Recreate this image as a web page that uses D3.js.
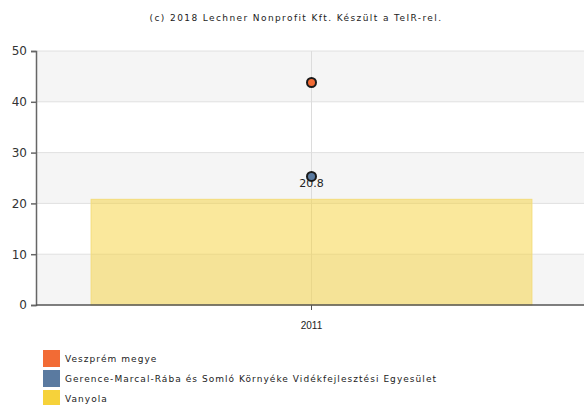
<!DOCTYPE html>
<html>
<head>
<meta charset="utf-8">
<script src="https://cdn.jsdelivr.net/npm/d3@7/dist/d3.min.js"></script>
<style>
  body { margin: 0; background: #fff; }
  svg { display: block; font-family: "DejaVu Sans", Verdana, sans-serif; }
</style>
</head>
<body>
<svg id="chart" width="584" height="405"></svg>
<script>
// Years on the x axis
const categories = ["2011"];
// Bar series (Vanyola) and point series
const barValues = [20.8];
const pointSeriesNames = ["Veszprém megye", "Gerence-Marcal-Rába és Somló Környéke Vidékfejlesztési Egyesület"];
const pointValues = [[43.8], [25.3]];
const legendNames = ["Veszprém megye", "Gerence-Marcal-Rába és Somló Környéke Vidékfejlesztési Egyesület", "Vanyola"];
const legendColors = ["#f26b35", "#5a7aa0", "#f6d23a"];
const yTicks = [0, 10, 20, 30, 40, 50];
const title = "(c) 2018 Lechner Nonprofit Kft. Készült a TeIR-rel.";

const svg = d3.select("#chart");
const margin = { left: 36, top: 51 };
const W = 584;
const plotRight = 587;
const plotBottom = 305;

const x = d3.scaleBand().domain(categories).range([margin.left, plotRight]).paddingInner(0.2).paddingOuter(0.1);
const y = d3.scaleLinear().domain([0, 50]).range([plotBottom, margin.top]);

// Title
svg.append("text").attr("x", 296).attr("y", 21).attr("text-anchor", "middle")
  .attr("font-size", 9).attr("letter-spacing", 1.4).attr("fill", "#222").text(title);

// Alternating horizontal bands
const bands = d3.pairs(yTicks);
svg.append("g").selectAll("rect").data(bands).join("rect")
  .attr("x", margin.left).attr("width", W - margin.left)
  .attr("y", d => y(d[1])).attr("height", d => y(d[0]) - y(d[1]))
  .attr("fill", (d, i) => i % 2 === 0 ? "#f5f5f5" : "#ffffff");

// Grid lines
svg.append("g").selectAll("line").data(yTicks.slice(1)).join("line")
  .attr("x1", margin.left).attr("x2", W)
  .attr("y1", d => y(d)).attr("y2", d => y(d))
  .attr("stroke", "#e0e0e0").attr("stroke-width", 1);

// Vertical category line
svg.append("g").selectAll("line").data(categories).join("line")
  .attr("x1", d => x(d) + x.bandwidth() / 2).attr("x2", d => x(d) + x.bandwidth() / 2)
  .attr("y1", margin.top).attr("y2", plotBottom)
  .attr("stroke", "#dcdcdc").attr("stroke-width", 1);

// Bars
svg.append("g").selectAll("rect").data(barValues).join("rect")
  .attr("x", (d, i) => x(categories[i]))
  .attr("width", x.bandwidth())
  .attr("y", d => y(d)).attr("height", d => y(0) - y(d))
  .attr("fill", "#f6d23a").attr("fill-opacity", 0.5)
  .attr("stroke", "#f3dc7a").attr("stroke-width", 1);

// Bar value labels
svg.append("g").selectAll("text").data(barValues).join("text")
  .attr("x", (d, i) => x(categories[i]) + x.bandwidth() / 2)
  .attr("y", d => y(d) - 12)
  .attr("text-anchor", "middle").attr("font-size", 11).attr("fill", "#222")
  .text(d => d.toFixed(1));

// Points
pointValues.forEach((vals, s) => {
  svg.append("g").selectAll("circle").data(vals).join("circle")
    .attr("cx", (d, i) => x(categories[i]) + x.bandwidth() / 2)
    .attr("cy", d => y(d))
    .attr("r", 4.5)
    .attr("fill", legendColors[s])
    .attr("stroke", "#1a1a1a").attr("stroke-width", 2);
});

// Y axis
const yAxis = svg.append("g").attr("transform", `translate(${margin.left},0)`)
  .call(d3.axisLeft(y).tickValues(yTicks).tickSize(5).tickPadding(4));
yAxis.select(".domain").attr("stroke", "#666").attr("stroke-width", 1.5);
yAxis.selectAll(".tick line").attr("stroke", "#666").attr("stroke-width", 1.5);
yAxis.selectAll(".tick text").attr("font-size", 12).attr("fill", "#333")
  .attr("font-family", "DejaVu Sans, sans-serif");

// X axis
const xAxis = svg.append("g").attr("transform", `translate(0,${plotBottom})`)
  .call(d3.axisBottom(x).tickSize(5).tickPadding(12).tickSizeOuter(0));
xAxis.select(".domain").attr("stroke", "#555").attr("stroke-width", 1.5).attr("d", `M${margin.left},0H${W}`);
xAxis.selectAll(".tick line").attr("stroke", "#555");
xAxis.selectAll(".tick text").attr("font-size", 10).attr("fill", "#222");

// Legend
const legend = svg.append("g").selectAll("g").data(legendNames).join("g")
  .attr("transform", (d, i) => `translate(43,${350 + i * 20})`);
legend.append("rect").attr("width", 17).attr("height", 17)
  .attr("fill", (d, i) => legendColors[i]);
legend.append("text").attr("x", 22).attr("y", 12)
  .attr("font-size", 9).attr("letter-spacing", 1.05).attr("fill", "#222").text(d => d);
</script>
</body>
</html>
